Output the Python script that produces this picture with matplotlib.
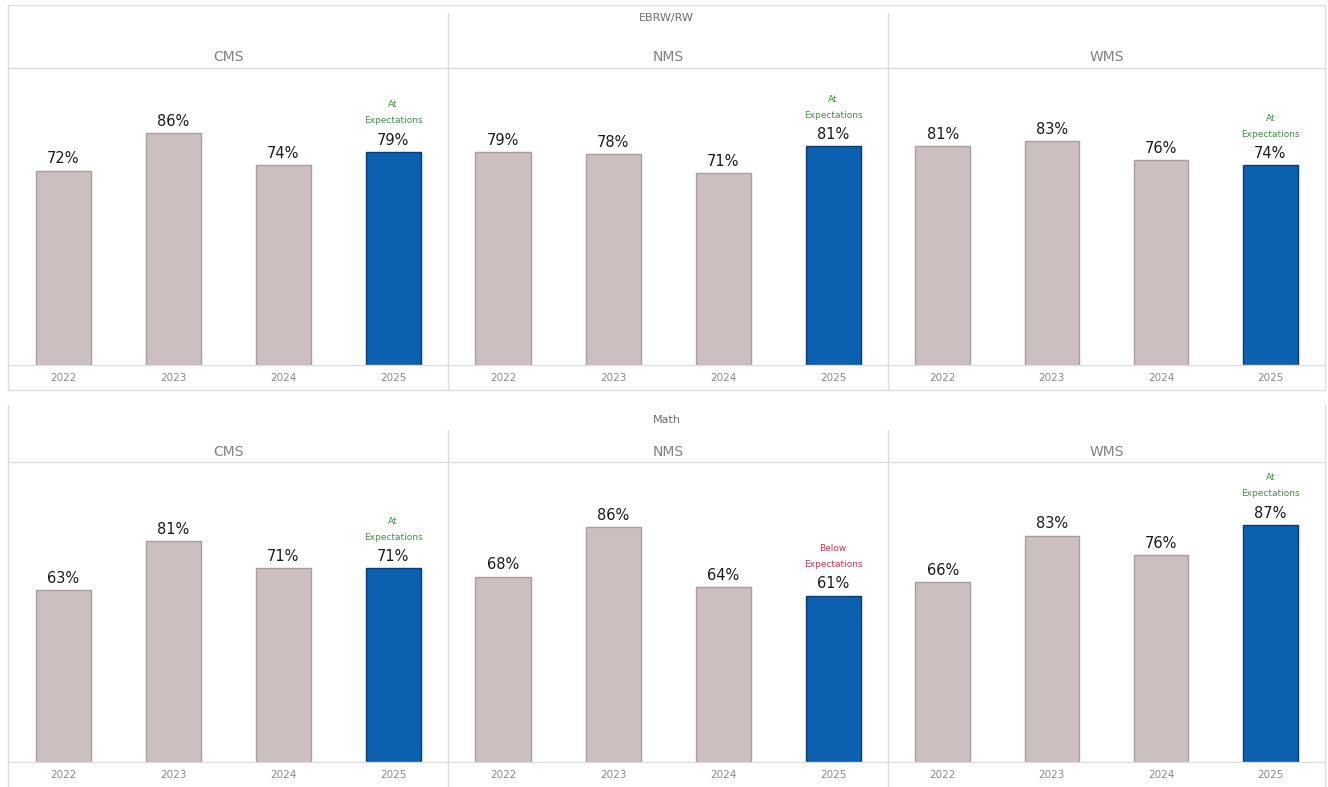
import matplotlib
matplotlib.use("Agg")
import matplotlib.pyplot as plt
from matplotlib.lines import Line2D

# Data
years = ["2022", "2023", "2024", "2025"]
schools = ["CMS", "NMS", "WMS"]
sections = ["EBRW/RW", "Math"]

ebrw_cms = [72, 86, 74, 79]
ebrw_nms = [79, 78, 71, 81]
ebrw_wms = [81, 83, 76, 74]
math_cms = [63, 81, 71, 71]
math_nms = [68, 86, 64, 61]
math_wms = [66, 83, 76, 87]

ebrw_status = ["At\nExpectations", "At\nExpectations", "At\nExpectations"]
math_status = ["At\nExpectations", "Below\nExpectations", "At\nExpectations"]

values = [[ebrw_cms, ebrw_nms, ebrw_wms], [math_cms, math_nms, math_wms]]
statuses = [ebrw_status, math_status]

W, H = 1328, 787
fig = plt.figure(figsize=(W / 100, H / 100), dpi=100)
fig.patch.set_facecolor("white")

GRAY = "#cbbfbf"
GRAY_EDGE = "#a99d9d"
BLUE = "#0b60b0"
BLUE_EDGE = "#0a3a70"
LINE = "#dedede"
TXT = "#6e6e6e"
GREEN = "#3d9440"
RED = "#c8344c"

panel_x = [8, 448, 888, 1325]
# header line y, baseline y, section title y, header text y, year label y
rows = [
    dict(top=68, base=365, title=18, head=57, year=378, div_top=13, div_bot=390),
    dict(top=462, base=762, title=420, head=452, year=775, div_top=430, div_bot=787),
]


def fx(x):
    return x / W


def fy(y):
    return 1 - y / H


def hline(x0, x1, y, **kw):
    fig.add_artist(Line2D([fx(x0), fx(x1)], [fy(y), fy(y)], color=LINE, lw=1, **kw))


def vline(x, y0, y1, **kw):
    fig.add_artist(Line2D([fx(x), fx(x)], [fy(y0), fy(y1)], color=LINE, lw=1, **kw))


# Outer frames
hline(panel_x[0], panel_x[-1], 5)
hline(panel_x[0], panel_x[-1], 390)
vline(panel_x[0], 5, 390)
vline(panel_x[-1], 5, 390)
vline(panel_x[0], 405, 787)
vline(panel_x[-1], 405, 787)

for r, row in enumerate(rows):
    fig.text(fx((panel_x[0] + panel_x[-1]) / 2), fy(row["title"]), sections[r],
             ha="center", va="center", fontsize=8, color=TXT)
    for d in (1, 2):
        vline(panel_x[d], row["div_top"], row["div_bot"])
    for p in range(3):
        x0, x1 = panel_x[p], panel_x[p + 1]
        hline(x0, x1, row["top"])
        hline(x0, x1, row["base"])
        fig.text(fx((x0 + x1) / 2), fy(row["head"]), schools[p],
                 ha="center", va="center", fontsize=10, color="#808080")
        ax = fig.add_axes([fx(x0), fy(row["base"]), fx(x1 - x0),
                           (row["base"] - row["top"]) / H])
        ax.set_xlim(-0.5, 3.5)
        ax.set_ylim(0, 110)
        ax.axis("off")
        vals = values[r][p]
        colors = [GRAY, GRAY, GRAY, BLUE]
        edges = [GRAY_EDGE, GRAY_EDGE, GRAY_EDGE, BLUE_EDGE]
        ax.bar(range(4), vals, width=0.5, color=colors, edgecolor=edges, linewidth=1)
        for i, v in enumerate(vals):
            ax.annotate(f"{v}%", (i, v), xytext=(0, 3), textcoords="offset points",
                        ha="center", va="bottom", fontsize=10.5, color="#1a1a1a")
        status = statuses[r][p]
        scol = RED if status.startswith("Below") else GREEN
        ax.annotate(status, (3, vals[3]), xytext=(0, 19), textcoords="offset points",
                    ha="center", va="bottom", fontsize=6.5, color=scol, linespacing=2.0)
        for i, y in enumerate(years):
            fig.text(fx(x0 + (x1 - x0) * (i + 0.5) / 4), fy(row["year"]), y,
                     ha="center", va="center", fontsize=7.5, color="#8a8a8a")

fig.savefig("out.png", dpi=100, facecolor="white")
